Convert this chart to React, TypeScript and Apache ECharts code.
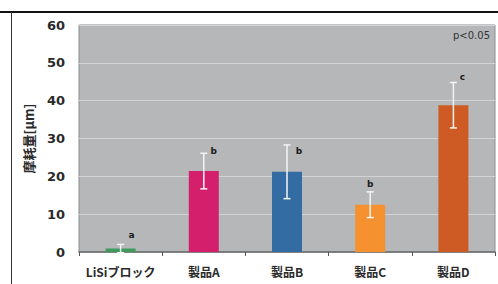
import React, { useEffect, useRef } from "react";
import * as echarts from "echarts";

const categories = ["LiSiブロック", "製品A", "製品B", "製品C", "製品D"];
const means = [0.9, 21.4, 21.2, 12.5, 38.8];
const errors = [1.1, 4.7, 7.1, 3.4, 6.0];
const letters = ["a", "b", "b", "b", "c"];
const yTicks = [0, 10, 20, 30, 40, 50, 60];
const barColors = ["#3f9a5e", "#d41f6c", "#336ca3", "#f5922f", "#cd5b23"];
const letterDx = [11, 10, 12, 0, 9];
const letterDy = [-9, -2, 6, -8, -6];

export default function App() {
  const ref = useRef<HTMLDivElement>(null);
  useEffect(() => {
    document.body.style.margin = "0";
    const chart = echarts.init(ref.current!, undefined, { renderer: "svg" });
    const font = "'Noto Sans CJK JP', 'Noto Sans', sans-serif";
    chart.setOption({
      animation: false,
      backgroundColor: "#ffffff",
      grid: {
        left: 79,
        top: 25,
        width: 416,
        height: 227,
        show: true,
        backgroundColor: "#b5b7b9",
        borderColor: "#8a8c8e",
        borderWidth: 1,
      },
      xAxis: {
        type: "category",
        data: categories,
        axisLine: { lineStyle: { color: "#6a6a6a", width: 1.5 } },
        axisTick: { show: true, length: 4, inside: false, lineStyle: { color: "#555" } },
        axisLabel: {
          interval: 0,
          hideOverlap: false,
          margin: 13,
          fontSize: 12,
          fontWeight: "bold",
          color: "#2a2a2a",
          fontFamily: font,
        },
      },
      yAxis: {
        type: "value",
        min: yTicks[0],
        max: yTicks[yTicks.length - 1],
        interval: 10,
        name: "摩耗量[μm]",
        nameLocation: "middle",
        nameGap: 44,
        nameTextStyle: {
          fontSize: 13,
          fontWeight: "bold",
          color: "#2a2a2a",
          fontFamily: font,
        },
        axisLine: { show: false },
        axisTick: { show: false },
        splitLine: { lineStyle: { color: "#d2d3d5", width: 1 } },
        axisLabel: {
          margin: 14,
          fontSize: 13,
          fontWeight: "bold",
          color: "#2a2a2a",
          fontFamily: "'DejaVu Sans', sans-serif",
        },
      },
      series: [
        {
          type: "bar",
          barWidth: 30,
          data: means.map((v, i) => ({ value: v, itemStyle: { color: barColors[i] } })),
        },
        {
          type: "custom",
          data: means.map((m, i) => [i, m - errors[i], m + errors[i], i]),
          renderItem: (params: any, api: any) => {
            const x = api.value(0);
            const lo = api.coord([x, api.value(1)]);
            const hi = api.coord([x, api.value(2)]);
            const idx = api.value(3);
            const cap = 3.5;
            const st = { stroke: "#f4f4f4", lineWidth: 1.5 };
            return {
              type: "group",
              children: [
                { type: "line", shape: { x1: hi[0], y1: hi[1], x2: lo[0], y2: lo[1] }, style: st },
                { type: "line", shape: { x1: hi[0] - cap, y1: hi[1], x2: hi[0] + cap, y2: hi[1] }, style: st },
                { type: "line", shape: { x1: lo[0] - cap, y1: lo[1], x2: lo[0] + cap, y2: lo[1] }, style: st },
                {
                  type: "text",
                  x: hi[0] + letterDx[idx],
                  y: hi[1] + letterDy[idx],
                  style: {
                    text: letters[idx],
                    fill: "#1a1a1a",
                    font: "bold 9px 'DejaVu Sans', sans-serif",
                    align: "center",
                    verticalAlign: "middle",
                  },
                },
              ],
            };
          },
          z: 5,
        },
      ],
      graphic: [
        { type: "rect", shape: { x: 0, y: 11, width: 498, height: 2 }, style: { fill: "#111" } },
        { type: "line", shape: { x1: 11.5, y1: 12, x2: 11.5, y2: 284 }, style: { stroke: "#333", lineWidth: 1 } },
        {
          type: "text",
          right: 8,
          top: 30,
          style: { text: "p<0.05", fill: "#333", font: "10px 'DejaVu Sans', sans-serif" },
        },
      ],
    });
    return () => chart.dispose();
  }, []);
  return <div ref={ref} style={{ width: 498, height: 284 }} />;
}
